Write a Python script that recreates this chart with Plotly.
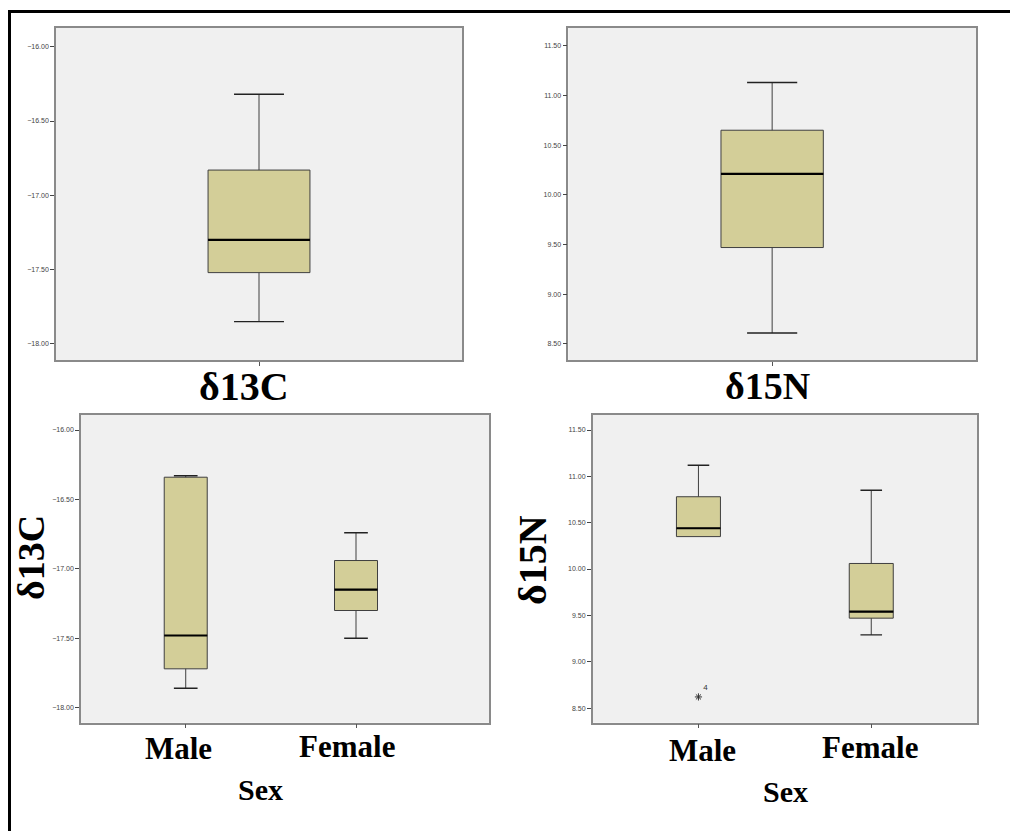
import plotly.graph_objects as go

# page is rendered with an 8px body margin, so the figure is offset by 8px
OFF = 8
W, H = 1018 - OFF, 831 - OFF

# ---------------- data ----------------
# overall boxes: lower whisker, Q1, median, Q3, upper whisker
c13_all_lower, c13_all_q1, c13_all_med, c13_all_q3, c13_all_upper = -17.85, -17.52, -17.30, -16.83, -16.32
n15_all_lower, n15_all_q1, n15_all_med, n15_all_q3, n15_all_upper = 8.61, 9.47, 10.21, 10.65, 11.13

sex_labels = ["Male", "Female"]
c13_sex_lower = [-17.86, -17.50]
c13_sex_q1 = [-17.72, -17.30]
c13_sex_med = [-17.48, -17.15]
c13_sex_q3 = [-16.34, -16.94]
c13_sex_upper = [-16.33, -16.74]

n15_sex_lower = [10.35, 9.29]
n15_sex_q1 = [10.35, 9.47]
n15_sex_med = [10.44, 9.54]
n15_sex_q3 = [10.78, 10.06]
n15_sex_upper = [11.12, 10.85]

n15_outlier_x = [0]
n15_outlier_y = [8.62]
n15_outlier_label = ["4"]

c13_ticks = [-18.0, -17.5, -17.0, -16.5, -16.0]
n15_ticks = [8.5, 9.0, 9.5, 10.0, 10.5, 11.0, 11.5]

# ---------------- styling ----------------
BOX_FILL = "#d3ce98"
BOX_LINE = "#3f3f3f"
PLOT_BG = "#f0f0f0"
AXIS_LINE = "#8a8a8a"
SERIF = "Liberation Serif, Times New Roman, serif"
SANS = "Liberation Sans, Arial, sans-serif"

fig = go.Figure()


def px_x(v):
    return (v - OFF) / W


def px_y(v):
    return 1 - (v - OFF) / H


def add_box(pos, lo, q1, med, q3, hi, xa, ya, bw, cw):
    fig.add_trace(go.Box(
        x=[pos], q1=[q1], median=[med], q3=[q3], lowerfence=[lo], upperfence=[hi],
        width=bw, fillcolor=BOX_FILL, line=dict(color=BOX_LINE, width=1),
        whiskerwidth=0, boxpoints=False, showlegend=False, hoverinfo="skip",
        xaxis=xa, yaxis=ya))
    # median
    fig.add_trace(go.Scatter(x=[pos - bw / 2, pos + bw / 2], y=[med, med], mode="lines",
                             line=dict(color="black", width=2.2), showlegend=False,
                             hoverinfo="skip", xaxis=xa, yaxis=ya))
    # whisker caps
    for v in (lo, hi):
        if v in (q1, q3):
            continue
        fig.add_trace(go.Scatter(x=[pos - cw / 2, pos + cw / 2], y=[v, v], mode="lines",
                                 line=dict(color="#222222", width=1.4), showlegend=False,
                                 hoverinfo="skip", xaxis=xa, yaxis=ya))


# panel 1 / 2 : overall
add_box(0, c13_all_lower, c13_all_q1, c13_all_med, c13_all_q3, c13_all_upper, "x", "y", 0.502, 0.246)
add_box(0, n15_all_lower, n15_all_q1, n15_all_med, n15_all_q3, n15_all_upper, "x2", "y2", 0.502, 0.246)

# panel 3 / 4 : by sex
for i in range(len(sex_labels)):
    add_box(i, c13_sex_lower[i], c13_sex_q1[i], c13_sex_med[i], c13_sex_q3[i], c13_sex_upper[i],
            "x3", "y3", 0.2525, 0.139)
    add_box(i, n15_sex_lower[i], n15_sex_q1[i], n15_sex_med[i], n15_sex_q3[i], n15_sex_upper[i],
            "x4", "y4", 0.2546, 0.125)

fig.add_trace(go.Scatter(x=n15_outlier_x, y=n15_outlier_y, mode="markers+text",
                         marker=dict(symbol="asterisk-open", size=6, color="#333333",
                                     line=dict(color="#333333", width=1)),
                         text=n15_outlier_label, textposition="top right",
                         textfont=dict(family=SANS, size=8, color="#333333"),
                         showlegend=False, hoverinfo="skip", xaxis="x4", yaxis="y4"))


def xaxis(domain_px, rng, tickvals):
    return dict(domain=[px_x(domain_px[0]), px_x(domain_px[1])], range=rng, fixedrange=True,
                showgrid=False, zeroline=False, showline=True, mirror=True,
                linecolor=AXIS_LINE, linewidth=1.5, tickmode="array", tickvals=tickvals,
                ticktext=[""] * len(tickvals), ticks="outside", ticklen=4, tickwidth=1,
                tickcolor="#555555")


def yaxis(domain_px, rng, tickvals, anchor):
    return dict(domain=[px_y(domain_px[1]), px_y(domain_px[0])], range=rng, fixedrange=True,
                showgrid=False, zeroline=False, showline=True, mirror=True,
                linecolor=AXIS_LINE, linewidth=1.5, tickmode="array", tickvals=tickvals,
                tickformat=".2f", ticks="outside", ticklen=4, tickwidth=1.2,
                tickcolor="#444444", tickfont=dict(family=SANS, size=7, color="#444444"),
                anchor=anchor, ticklabelstandoff=0)


fig.update_layout(
    width=W, height=H, margin=dict(l=0, r=0, t=0, b=0),
    paper_bgcolor="white", plot_bgcolor=PLOT_BG, showlegend=False,
    xaxis=dict(xaxis((56, 462), [-1, 1], [0]), anchor="y"),
    yaxis=yaxis((28, 360), [-18.108, -15.874], c13_ticks, "x"),
    xaxis2=dict(xaxis((568.3, 976), [-1, 1], [0]), anchor="y2"),
    yaxis2=yaxis((28, 360), [8.339, 11.678], n15_ticks, "x2"),
    xaxis3=dict(xaxis((81, 489), [-0.615, 1.781], [0, 1]), anchor="y3"),
    yaxis3=yaxis((415, 722.7), [-18.108, -15.892], c13_ticks, "x3"),
    xaxis4=dict(xaxis((592.7, 977), [-0.612, 1.612], [0, 1]), anchor="y4"),
    yaxis4=yaxis((415, 722.7), [8.342, 11.662], n15_ticks, "x4"),
)


def label(text, x, y, size, angle=0, xanchor="center"):
    fig.add_annotation(text=text, x=px_x(x), y=px_y(y), xref="paper", yref="paper",
                       showarrow=False, textangle=angle, xanchor=xanchor, yanchor="middle",
                       font=dict(family=SERIF, size=size, color="black"), borderpad=0)


label("<b>δ13C</b>", 244, 386, 40)
label("<b>δ15N</b>", 767, 386, 38)
label("<b>δ13C</b>", 9, 558, 38, -90, xanchor="left")
label("<b>δ15N</b>", 532, 560, 40, -90)
label("<b>Male</b>", 178, 748, 31)
label("<b>Female</b>", 347, 746, 31)
label("<b>Sex</b>", 260, 789, 30)
label("<b>Male</b>", 702, 750, 31)
label("<b>Female</b>", 870, 747, 31)
label("<b>Sex</b>", 785, 791, 30)

# black frame (top and left edges)
fig.add_shape(type="line", xref="paper", yref="paper", x0=px_x(8), x1=1, y0=px_y(11.5), y1=px_y(11.5),
              line=dict(color="black", width=3))
fig.add_shape(type="line", xref="paper", yref="paper", x0=px_x(9.5), x1=px_x(9.5), y0=px_y(10), y1=0,
              line=dict(color="black", width=3))

fig.write_html("out.html")
